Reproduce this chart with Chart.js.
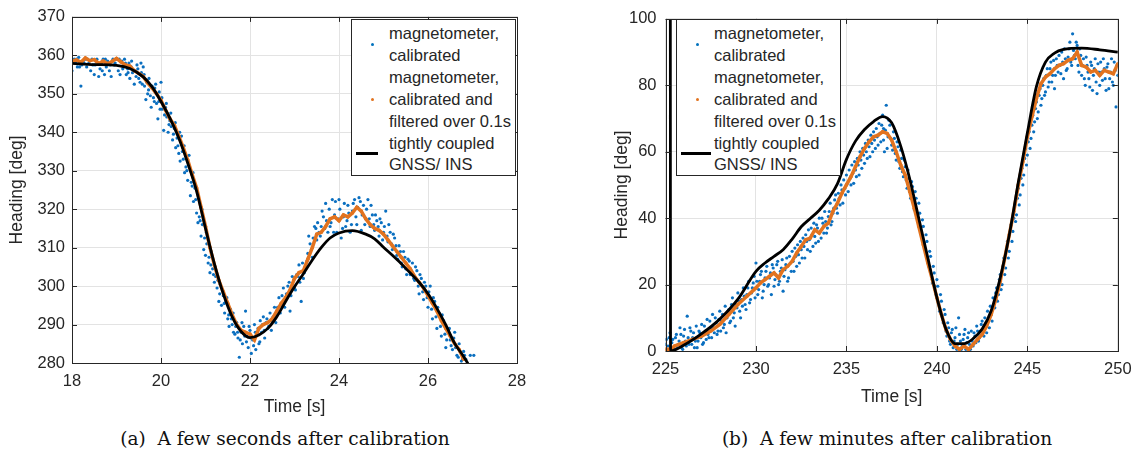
<!DOCTYPE html>
<html>
<head>
<meta charset="utf-8">
<script src="https://cdn.jsdelivr.net/npm/chart.js@4"></script>
<style>
  body { margin: 0; width: 1140px; height: 452px; background: #fff; position: relative; overflow: hidden; }
  canvas { position: absolute; top: 0; }
  .legend { position: absolute; top: 19px; height: 157px; border: 1px solid #262626; background: #fff; box-sizing: border-box; }
  .legend .txt { position: absolute; left: 37px; top: 3px; font: 16.5px "Liberation Sans", Arial, sans-serif; line-height: 21.9px; color: #262626; white-space: nowrap; }
  .dot { position: absolute; width: 3px; height: 3px; border-radius: 50%; }
  .sample { position: absolute; height: 3px; background: #000; }
  .caption { position: absolute; top: 428px; width: 560px; text-align: center; font: 18.5px "DejaVu Serif", "Liberation Serif", serif; color: #111; white-space: pre; }
</style>
</head>
<body>
<canvas id="left" width="560" height="425" style="left:0px"></canvas>
<canvas id="right" width="580" height="425" style="left:560px"></canvas>

<div class="legend" style="left:351px; width:165px">
  <div class="dot" style="left:19px; top:23px; background:#0072BD"></div>
  <div class="dot" style="left:19px; top:78px; background:#E2731F"></div>
  <div class="sample" style="left:4px; top:132px; width:22px"></div>
  <div class="txt">magnetometer,<br>calibrated<br>magnetometer,<br>calibrated and<br>filtered over 0.1s<br>tightly coupled<br>GNSS/ INS</div>
</div>
<div class="legend" style="left:676px; width:165px">
  <div class="dot" style="left:19px; top:23px; background:#0072BD"></div>
  <div class="dot" style="left:19px; top:78px; background:#E2731F"></div>
  <div class="sample" style="left:4px; top:132px; width:30px"></div>
  <div class="txt">magnetometer,<br>calibrated<br>magnetometer,<br>calibrated and<br>filtered over 0.1s<br>tightly coupled<br>GNSS/ INS</div>
</div>

<div class="caption" style="left:5px">(a)  A few seconds after calibration</div>
<div class="caption" style="left:607px">(b)  A few minutes after calibration</div>

<script>
// ---- subplot (a): 18-28 s ----
const magLeft = [
  [18.00,356],[18.05,359],[18.08,358],[18.12,357],[18.15,359.5],[18.20,352],[18.22,357.5],[18.25,358.5],
  [18.30,359],[18.33,357],[18.38,358],[18.42,356],[18.45,359],[18.50,355],[18.52,357.5],[18.56,359],
  [18.60,354.5],[18.63,356.5],[18.66,358],[18.70,359],[18.73,355],[18.77,357],[18.80,358.5],[18.84,356],
  [18.88,354.5],[18.92,359],[18.95,357.5],[19.00,359],[19.04,356],[19.08,355],[19.12,358.5],[19.15,357],
  [19.18,359],[19.22,355],[19.25,356.5],[19.28,358],[19.30,354],[19.33,357],[19.36,355.5],[19.40,352.5],
  [19.43,356],[19.46,357.5],[19.50,354],[19.53,353],[19.56,355.5],[19.60,357],[19.63,352],[19.66,348.5],
  [19.70,350],[19.73,354],[19.76,349.5],[19.80,352],[19.83,349],[19.86,351.5],[19.90,347.5],[19.93,343.5],
  [19.96,350.5],[20.00,353],[20.03,346],[20.06,340.5],[20.10,346.5],[20.13,344],[20.16,340],[20.20,343],
  [20.23,341.5],[20.26,338],[20.30,341],[20.33,336],[20.36,338.5],[20.40,334.5],[20.43,332.5],[20.46,339],
  [20.50,333],[20.53,329.5],[20.56,331],[20.60,327.5],[20.63,334],[20.66,323.5],[20.70,326],[20.73,322],
  [20.76,325.5],[20.80,319],[20.83,316.5],[20.86,318],[20.90,313],[20.93,316],[20.96,309.5],[21.00,308],
  [21.03,311],[21.06,306],[21.10,303.5],[21.13,309],[21.16,304.5],[21.20,301],[21.23,302.5],[21.26,299.5],
  [21.30,296],[21.33,300.5],[21.36,295],[21.40,297.5],[21.43,293],[21.46,296],[21.50,291.5],[21.53,289.5],
  [21.56,294],[21.60,290],[21.63,288],[21.66,287.5],[21.70,290.5],[21.73,286.5],[21.76,281.5],[21.80,288],
  [21.83,285],[21.86,289.5],[21.90,293.5],[21.93,287],[21.96,284],[22.00,288.5],[22.03,282.5],[22.06,286],
  [22.10,290],[22.13,283.5],[22.16,287.5],[22.20,285],[22.23,291],[22.26,288],[22.30,292],[22.33,286.5],
  [22.36,290.5],[22.40,289],[22.45,293],[22.50,291],[22.55,294.5],[22.60,292.5],[22.65,297],[22.70,295],
  [22.75,299.5],[22.80,296.5],[22.85,300],[22.90,293.5],[22.95,302.5],[23.00,299.5],[23.05,303],[23.10,305.5],
  [23.15,296],[23.20,302],[23.25,304.5],[23.30,308.5],[23.35,311],[23.40,307.5],[23.45,315.5],[23.50,312],
  [23.55,314],[23.60,315.5],[23.65,318],[23.70,321.5],[23.75,314],[23.80,315.5],[23.85,322.5],[23.90,318.5],
  [23.95,314],[24.00,322.5],[24.05,312.5],[24.10,318],[24.15,315.5],[24.20,321],[24.25,314],[24.30,319.5],
  [24.35,322.5],[24.40,316],[24.45,323],[24.50,314.5],[24.55,321],[24.60,317.5],[24.65,322.5],[24.70,315.5],
  [24.75,318.5],[24.80,314.5],[24.85,317],[24.90,313],[24.95,316.5],[25.00,314],[25.05,319.5],[25.10,311.5],
  [25.15,314],[25.20,309.5],[25.25,312.5],[25.30,308],[25.35,310.5],[25.40,306],[25.45,309],[25.50,304.5],
  [25.55,307],[25.60,303],[25.65,306],[25.70,301.5],[25.75,304],[25.80,298],[25.85,302],[25.90,296.5],
  [25.95,300],[26.00,294.5],[26.05,300],[26.10,291.5],[26.15,296],[26.20,289],[26.25,293],[26.30,287],
  [26.35,291],[26.40,284],[26.45,288.5],[26.50,286],[26.55,283.5],[26.60,288],[26.65,282],[26.70,285],
  [26.75,280.5],[26.80,283],[26.85,281],[26.95,282],[27.03,282]
];
const magLeft2 = [
  [18.03,358.5],[18.10,359],[18.17,357],[18.27,358],[18.35,359],[18.47,357.5],[18.54,358.5],[18.68,356],
  [18.75,359],[18.86,357.5],[18.97,358],[19.06,359],[19.14,356.5],[19.20,358],[19.26,355.5],[19.34,358.5],
  [19.39,356],[19.44,354.5],[19.48,356.5],[19.55,358],[19.58,352.5],[19.62,355],[19.68,353],[19.72,351],
  [19.78,346.5],[19.85,348],[19.88,352.5],[19.95,348],[19.98,346],[20.02,349],[20.08,344.5],[20.12,347.5],
  [20.18,342],[20.22,345],[20.28,339.5],[20.32,342.5],[20.38,336.5],[20.42,340],[20.48,335],[20.52,336.5],
  [20.58,330],[20.62,331.5],[20.68,327],[20.72,329.5],[20.78,322.5],[20.82,324],[20.88,317],[20.92,320],
  [20.98,312.5],[21.02,314],[21.08,307.5],[21.12,305.5],[21.18,303],[21.22,305],[21.28,301.5],[21.32,298],
  [21.38,299],[21.42,295.5],[21.48,297],[21.52,292.5],[21.58,291.5],[21.62,293],[21.68,289.5],[21.72,288],
  [21.78,286],[21.82,290.5],[21.88,287],[21.92,285.5],[21.98,289.5],[22.02,286.5],[22.08,284.5],[22.12,288],
  [22.18,289],[22.22,285.5],[22.28,290],[22.32,288.5],[22.38,291.5],[22.42,289.5],[22.48,288.5],[22.52,292],
  [22.58,290.5],[22.62,294.5],[22.68,293],[22.72,297.5],[22.78,294.5],[22.82,298],[22.88,301],[22.92,297.5],
  [22.98,301.5],[23.02,299],[23.08,302.5],[23.12,301],[23.18,306],[23.22,303.5],[23.28,306.5],[23.32,313],
  [23.38,309.5],[23.42,312.5],[23.48,315],[23.52,316.5],[23.58,313],[23.62,319.5],[23.68,315],[23.72,317],
  [23.78,320],[23.82,316.5],[23.88,314],[23.92,322],[23.98,317.5],[24.02,320],[24.08,315],[24.12,321.5],
  [24.18,317],[24.22,319],[24.28,316],[24.32,321.5],[24.38,318],[24.42,320.5],[24.48,322],[24.52,318.5],
  [24.58,316],[24.62,320],[24.68,317.5],[24.72,321],[24.78,316],[24.82,318.5],[24.88,315.5],[24.92,317.5],
  [24.98,312],[25.02,315.5],[25.08,313],[25.12,316],[25.18,311],[25.22,313.5],[25.28,310.5],[25.32,307],
  [25.38,309],[25.42,305],[25.48,307.5],[25.52,303],[25.58,306.5],[25.62,304],[25.68,302],[25.72,305],
  [25.78,300],[25.82,303],[25.88,298.5],[25.92,301],[25.98,297],[26.02,298.5],[26.08,294],[26.12,297],
  [26.18,292],[26.22,294.5],[26.28,289.5],[26.32,292.5],[26.38,287.5],[26.42,286],[26.48,289],[26.52,284.5],
  [26.58,286.5],[26.62,284],[26.68,281.5],[26.72,283],[26.78,281],[26.82,282]
];
const filtLeft = [
  [18.0,358.5],[18.1,358.8],[18.2,358.2],[18.3,359.3],[18.4,358.6],[18.5,358.9],[18.6,357.9],[18.7,358.5],
  [18.8,357.8],[18.9,358.4],[19.0,359.2],[19.1,358.3],[19.2,357.5],[19.3,357.2],[19.4,356.0],[19.5,355.3],
  [19.6,354.5],[19.7,352.8],[19.8,351.5],[19.9,350.0],[20.0,348.3],[20.1,345.8],[20.2,343.5],[20.3,341.8],
  [20.4,339.0],[20.5,336.0],[20.6,332.8],[20.7,329.0],[20.8,325.5],[20.9,320.5],[21.0,315.5],[21.1,310.0],
  [21.2,305.5],[21.3,301.5],[21.4,298.5],[21.5,295.5],[21.6,292.5],[21.7,290.0],[21.8,288.5],[21.9,288.0],
  [22.0,287.5],[22.1,286.0],[22.2,289.0],[22.3,290.0],[22.4,290.5],[22.5,291.5],[22.6,293.5],[22.7,295.5],
  [22.8,297.0],[22.9,299.0],[23.0,302.0],[23.1,303.5],[23.2,304.0],[23.3,307.0],[23.4,310.0],[23.5,313.5],
  [23.6,314.0],[23.7,315.5],[23.8,317.5],[23.9,318.0],[24.0,317.0],[24.1,318.5],[24.2,318.0],[24.3,319.0],
  [24.4,320.5],[24.5,319.5],[24.6,317.5],[24.7,316.0],[24.8,315.0],[24.9,314.5],[25.0,313.5],[25.1,312.0],
  [25.2,310.5],[25.3,309.0],[25.4,307.5],[25.5,306.0],[25.6,304.5],[25.7,302.5],[25.8,301.0],[25.9,299.5],
  [26.0,297.5],[26.1,295.5],[26.2,293.5],[26.3,291.0],[26.4,289.0],[26.5,287.0],[26.6,285.0],[26.7,283.5],
  [26.8,281.0]
];
const insLeft = [
  [18,357.9],[18.5,357.6],[19,357.4],[19.3,356.6],[19.6,354.4],[19.8,351.8],[20,348],[20.2,343.7],
  [20.4,338.5],[20.6,332],[20.8,324.7],[21,315],[21.2,305.8],[21.4,298],[21.6,292],[21.8,288.2],
  [22,286.6],[22.2,287.3],[22.4,289],[22.6,292],[22.8,296],[23,299.8],[23.2,303.2],[23.4,306.8],
  [23.6,310],[23.8,312.5],[24,313.8],[24.3,314.4],[24.6,313.5],[24.8,312.3],[25,310.1],[25.2,308],
  [25.4,305.8],[25.6,303.4],[25.8,301],[26,298],[26.2,294.2],[26.4,289.9],[26.6,285.1],[26.8,281.7],
  [26.9,279.8]
];

// ---- subplot (b): 225-250 s ----
const magRight = [
  [225.0,2],[225.1,0.5],[225.2,4],[225.3,1],[225.4,3.5],[225.5,0.5],[225.6,5],[225.7,2],[225.8,7],[225.9,1],
  [226.0,4.5],[226.1,3],[226.2,10.5],[226.3,2],[226.4,6],[226.5,4],[226.6,1],[226.7,7.5],[226.8,3],[226.9,5.5],
  [227.0,8],[227.1,2.5],[227.2,6],[227.3,9.5],[227.4,4],[227.5,7],[227.6,11],[227.7,5.5],[227.8,8.5],[227.9,6],
  [228.0,12],[228.1,9],[228.2,7],[228.3,13.5],[228.4,10],[228.5,12.5],[228.6,9],[228.7,16],[228.8,11.5],[228.9,14],
  [229.0,17.5],[229.1,12],[229.2,15.5],[229.3,19],[229.4,14],[229.5,17],[229.6,21],[229.7,15.5],[229.8,19],[229.9,22.5],
  [230.0,26.5],[230.1,17],[230.2,21],[230.3,24],[230.4,18],[230.5,22],[230.6,25.5],[230.7,20],[230.8,23.5],[230.9,26],
  [231.0,19.5],[231.1,23],[231.2,27],[231.3,21],[231.4,25],[231.5,18],[231.6,24.5],[231.7,28],[231.8,22],[231.9,26.5],
  [232.0,30],[232.1,24],[232.2,28.5],[232.3,32],[232.4,26.5],[232.5,30.5],[232.6,34],[232.7,28],[232.8,33],[232.9,36.5],
  [233.0,30],[233.1,35],[233.2,38.5],[233.3,32.5],[233.4,37],[233.5,40],[233.6,34],[233.7,38.5],[233.8,42],[233.9,35.5],
  [234.0,40.5],[234.1,44.5],[234.2,39],[234.3,43],[234.4,47],[234.5,41.5],[234.6,46],[234.7,50],[234.8,44.5],[234.9,49],
  [235.0,53],[235.1,48],[235.2,52],[235.3,56],[235.4,50.5],[235.5,54.5],[235.6,58],[235.7,53],[235.8,57.5],[235.9,61],
  [236.0,56.5],[236.1,60],[236.2,63.5],[236.3,58.5],[236.4,62.5],[236.5,66],[236.6,61],[236.7,64.5],[236.8,68.5],[236.9,63],
  [237.0,71],[237.05,67],[237.1,60],[237.2,74],[237.3,64.5],[237.4,68],[237.5,62],[237.6,66],[237.7,59.5],[237.8,63],
  [237.9,57],[238.0,60.5],[238.1,54],[238.2,57.5],[238.3,51.5],[238.4,54.5],[238.5,48],[238.6,51],[238.7,45],[238.8,48],
  [238.9,41],[239.0,44.5],[239.1,36.5],[239.2,39.5],[239.3,32.5],[239.4,35],[239.5,27.5],[239.6,30],[239.7,23],[239.8,25.5],
  [239.9,19.5],[240.0,21.5],[240.1,14.5],[240.2,17],[240.3,10.5],[240.4,12.5],[240.5,6],[240.6,8.5],[240.7,3],[240.8,5.5],
  [240.9,1],[241.0,4],[241.1,0.5],[241.2,10],[241.3,3],[241.4,1.5],[241.5,5],[241.6,0.5],[241.7,4],[241.8,2],
  [241.9,6],[242.0,1.5],[242.1,4.5],[242.2,7.5],[242.3,3],[242.4,6],[242.5,9],[242.6,4.5],[242.7,8],[242.8,12],
  [242.9,7],[243.0,11],[243.1,16],[243.2,13],[243.3,19],[243.4,17],[243.5,23],[243.6,20],[243.7,28],[243.8,25],
  [243.9,33],[244.0,30],[244.1,38],[244.2,36],[244.3,44],[244.4,41],[244.5,49],[244.6,47],[244.7,55],[244.8,53],
  [244.9,61],[245.0,59],[245.1,66],[245.2,64],[245.3,71],[245.4,69],[245.5,75],[245.6,72],[245.7,79],[245.8,76],
  [245.9,82],[246.0,78],[246.1,85],[246.2,81],[246.3,87],[246.4,83],[246.5,79],[246.6,88],[246.7,84],[246.8,86],
  [246.9,90],[247.0,82],[247.1,88],[247.2,85],[247.3,91],[247.4,87],[247.5,95.5],[247.6,89],[247.7,93],[247.8,86],
  [247.9,91],[248.0,83],[248.1,88],[248.2,80],[248.3,86],[248.4,82],[248.5,87],[248.6,78.5],[248.7,85],[248.8,81],
  [248.9,86.5],[249.0,80],[249.1,84],[249.2,88],[249.3,82],[249.4,85.5],[249.5,79],[249.6,84],[249.7,81],[249.8,87],
  [249.9,73.5],[250.0,83]
];
const magRight2 = [
  [225.05,3.5],[225.15,1.5],[225.25,5.5],[225.35,2.5],[225.45,0.5],[225.55,4],[225.65,1],[225.75,3],[225.85,5],[225.95,0.5],
  [226.05,6.5],[226.15,1.5],[226.25,4],[226.35,7],[226.45,2],[226.55,5.5],[226.65,3],[226.75,1],[226.85,6],[226.95,4],
  [227.05,2],[227.15,7.5],[227.25,3.5],[227.35,5],[227.45,9],[227.55,4],[227.65,7],[227.75,10],[227.85,5],[227.95,9.5],
  [228.05,6],[228.15,11],[228.25,8],[228.35,5.5],[228.45,12],[228.55,8.5],[228.65,14],[228.75,10],[228.85,7.5],[228.95,13],
  [229.05,15],[229.15,10],[229.25,13.5],[229.35,16.5],[229.45,12.5],[229.55,19],[229.65,14.5],[229.75,17.5],[229.85,20.5],[229.95,16],
  [230.05,21],[230.15,18.5],[230.25,23],[230.35,16],[230.45,20],[230.55,24],[230.65,19.5],[230.75,22],[230.85,17],[230.95,25],
  [231.05,21.5],[231.15,26],[231.25,20],[231.35,24],[231.45,27.5],[231.55,22.5],[231.65,26],[231.75,21],[231.85,28.5],[231.95,24],
  [232.05,27],[232.15,31],[232.25,25.5],[232.35,29],[232.45,33],[232.55,28],[232.65,31.5],[232.75,35],[232.85,30.5],[232.95,33.5],
  [233.05,37],[233.15,31.5],[233.25,34.5],[233.35,38],[233.45,33],[233.55,36],[233.65,40],[233.75,35.5],[233.85,39],[233.95,37],
  [234.05,42],[234.15,38],[234.25,41.5],[234.35,45.5],[234.45,43],[234.55,47.5],[234.65,44],[234.75,48.5],[234.85,51.5],[234.95,47],
  [235.05,50.5],[235.15,54.5],[235.25,50],[235.35,53.5],[235.45,57],[235.55,52.5],[235.65,56],[235.75,60],[235.85,55],[235.95,59],
  [236.05,62.5],[236.15,58],[236.25,61.5],[236.35,65],[236.45,60],[236.55,63.5],[236.65,67],[236.75,62],[236.85,65.5],[236.95,68],
  [237.05,63.5],[237.15,66.5],[237.25,61],[237.35,69.5],[237.45,64],[237.55,60.5],[237.65,64],[237.75,57.5],[237.85,61.5],[237.95,55],
  [238.05,58],[238.15,52.5],[238.25,55.5],[238.35,49],[238.45,52],[238.55,46],[238.65,49.5],[238.75,42.5],[238.85,46],[238.95,39],
  [239.05,41.5],[239.15,35],[239.25,37.5],[239.35,30.5],[239.45,33],[239.55,25.5],[239.65,28.5],[239.75,20.5],[239.85,23.5],[239.95,17],
  [240.05,19.5],[240.15,12],[240.25,15],[240.35,8.5],[240.45,11],[240.55,4.5],[240.65,7],[240.75,2],[240.85,6.5],[240.95,3],
  [241.05,7],[241.15,2],[241.25,5],[241.35,0.5],[241.45,3.5],[241.55,6.5],[241.65,2.5],[241.75,5.5],[241.85,0.5],[241.95,3],
  [242.05,5.5],[242.15,2.5],[242.25,6],[242.35,4],[242.45,8],[242.55,6.5],[242.65,10],[242.75,5.5],[242.85,9.5],[242.95,13.5],
  [243.05,9],[243.15,14],[243.25,17.5],[243.35,15],[243.45,21.5],[243.55,18.5],[243.65,25.5],[243.75,23],[243.85,30.5],[243.95,28],
  [244.05,36],[244.15,33],[244.25,40],[244.35,39],[244.45,46],[244.55,44],[244.65,52],[244.75,50],[244.85,58],[244.95,56],
  [245.05,63],[245.15,61],[245.25,68],[245.35,66],[245.45,73],[245.55,70],[245.65,77],[245.75,74],[245.85,80],[245.95,77],
  [246.05,83],[246.15,79.5],[246.25,85],[246.35,81],[246.45,87.5],[246.55,83],[246.65,86],[246.75,89],[246.85,83.5],[246.95,87],
  [247.05,91],[247.15,84.5],[247.25,88.5],[247.35,93],[247.45,86],[247.55,90.5],[247.65,88],[247.75,92],[247.85,84],[247.95,89],
  [248.05,86],[248.15,82],[248.25,88.5],[248.35,84],[248.45,79.5],[248.55,86],[248.65,83],[248.75,88],[248.85,77.5],[248.95,84],
  [249.05,87],[249.15,81.5],[249.25,85],[249.35,78.5],[249.45,86.5],[249.55,82],[249.65,88],[249.75,80],[249.85,84.5],[249.95,86]
];
const filtRight = [
  [225.0,0.5],[225.3,0.5],[225.5,1.5],[226,2.5],[226.5,3.5],[227,4.5],[227.5,6],[228,8],[228.5,11],[229,14],
  [229.5,16.5],[230,19],[230.25,20.5],[230.5,21.5],[230.75,22.5],[231,23.5],[231.25,22],[231.5,24.5],[231.75,25.5],
  [232,27],[232.25,29.5],[232.5,31.5],[232.75,33.5],[233,34],[233.25,36.5],[233.5,35.5],[233.75,37.5],[234,38.5],
  [234.25,42],[234.5,44.5],[234.75,47.5],[235,50],[235.25,52.5],[235.5,55.5],[235.75,58.5],[236,61],[236.25,63],
  [236.5,64.5],[236.75,65],[237,66],[237.25,65.5],[237.5,63.5],[237.75,60],[238,56],[238.25,53],[238.5,48],
  [238.75,43],[239,37.5],[239.25,32],[239.5,26.5],[239.75,21.5],[240,16],[240.25,11],[240.5,6.5],[240.75,3.5],
  [241,1.5],[241.25,0.5],[241.5,1.5],[241.75,0.5],[242,2],[242.25,3.5],[242.5,5],[242.75,7.5],[243,11],
  [243.25,15.5],[243.5,21],[243.75,28],[244,35],[244.25,42],[244.5,50],[244.75,57],[245,64.5],[245.25,70.5],
  [245.5,76],[245.75,80.5],[246,82.5],[246.25,83.5],[246.5,85],[246.75,86],[247,86.5],[247.25,87.5],[247.5,88],
  [247.75,90],[248,86],[248.25,85.5],[248.5,84],[248.75,84.5],[249,83],[249.25,84.5],[249.5,84],[249.75,83.5],
  [250,86.5]
];
const insRight = [
  [225.25,359],[225.28,0],[226,1.7],[227,5.2],[228,9.6],[229,15.6],[230,24],[230.5,26.5],[231,28.5],
  [231.5,30.5],[232,33.7],[232.5,37.4],[233,39.9],[233.5,42.4],[234,45.8],[234.5,50.3],[235,57.7],
  [235.5,63.2],[236,66.7],[236.5,69.1],[237,70.6],[237.5,68.7],[238,61.7],[238.5,51.8],[239,39.9],
  [239.5,28],[240,16.1],[240.5,6.6],[241,2.2],[241.5,2.2],[242,3.7],[242.5,6.6],[243,12.1],[243.5,22],
  [244,34.9],[244.5,50.8],[245,65.7],[245.5,79.6],[246,87],[246.5,89.7],[247,90.8],[248,91.2],[249,90.7],
  [250,90]
];

const xy = arr => arr.map(p => ({x: p[0], y: p[1]}));

// box around the axes with inward tick marks, like the original figure
const boxTicks = {
  id: 'boxTicks',
  afterDatasetsDraw(chart) {
    const {ctx, chartArea: a, scales: {x, y}} = chart;
    ctx.save();
    ctx.strokeStyle = '#262626';
    ctx.lineWidth = 1;
    ctx.beginPath();
    x.ticks.forEach(t => {
      const px = Math.round(x.getPixelForValue(t.value)) + 0.5;
      ctx.moveTo(px, a.bottom); ctx.lineTo(px, a.bottom - 5);
      ctx.moveTo(px, a.top); ctx.lineTo(px, a.top + 5);
    });
    y.ticks.forEach(t => {
      const py = Math.round(y.getPixelForValue(t.value)) + 0.5;
      ctx.moveTo(a.left, py); ctx.lineTo(a.left + 5, py);
      ctx.moveTo(a.right, py); ctx.lineTo(a.right - 5, py);
    });
    ctx.stroke();
    ctx.strokeRect(Math.round(a.left) + 0.5, Math.round(a.top) + 0.5, Math.round(a.width), Math.round(a.height));
    ctx.restore();
  }
};

function makeChart(id, o) {
  const tickFont = {family: 'Liberation Sans', size: 16.5};
  const titleFont = {family: 'Liberation Sans', size: 17.5};
  return new Chart(document.getElementById(id), {
    type: 'scatter',
    data: {
      datasets: [
        {label: 'tightly coupled GNSS/ INS', data: xy(o.ins), showLine: true, borderColor: '#000', borderWidth: 2.8,
         pointRadius: 0, cubicInterpolationMode: 'monotone', order: 1},
        {label: 'magnetometer, calibrated and filtered over 0.1s', data: xy(o.filt), showLine: true, borderColor: '#E2731F',
         borderWidth: 3.5, backgroundColor: '#E2731F', pointRadius: 1.8, pointBorderWidth: 0, order: 2},
        {label: 'magnetometer, calibrated', data: xy(o.mag), backgroundColor: '#0a6fc0', pointRadius: 1.6,
         pointBorderWidth: 0, order: 3}
      ]
    },
    options: {
      responsive: false,
      animation: false,
      layout: {padding: {top: 15, right: o.padRight, left: 0, bottom: 0}},
      plugins: {legend: {display: false}, tooltip: {enabled: false}},
      scales: {
        x: {
          type: 'linear', min: o.xMin, max: o.xMax,
          afterFit: s => { s.height = o.xHeight; },
          ticks: {stepSize: o.xStep, color: '#262626', font: tickFont, padding: o.xTickPad, maxRotation: 0},
          grid: {color: '#e3e3e3', drawTicks: false},
          border: {display: false},
          title: {display: true, text: 'Time [s]', color: '#262626', font: titleFont, padding: {top: 0, bottom: o.xTitlePad}}
        },
        y: {
          type: 'linear', min: o.yMin, max: o.yMax,
          afterFit: s => { s.width = o.yWidth; },
          ticks: {stepSize: o.yStep, color: '#262626', font: tickFont, padding: o.yTickPad},
          grid: {color: '#e3e3e3', drawTicks: false},
          border: {display: false},
          title: {display: true, text: 'Heading [deg]', color: '#262626', font: titleFont, padding: {top: o.yTitlePad, bottom: 0}}
        }
      }
    },
    plugins: [boxTicks]
  });
}

makeChart('left', {
  mag: magLeft.concat(magLeft2), filt: filtLeft, ins: insLeft,
  xMin: 18, xMax: 28, xStep: 2, yMin: 280, yMax: 370, yStep: 10,
  padRight: 43, xHeight: 62, yWidth: 72, xTickPad: 9, xTitlePad: 7.5, yTickPad: 7, yTitlePad: 6.5
});
makeChart('right', {
  mag: magRight.concat(magRight2), filt: filtRight, ins: insRight,
  xMin: 225, xMax: 250, xStep: 5, yMin: 0, yMax: 100, yStep: 20,
  padRight: 18, xHeight: 74, yWidth: 105.5, xTickPad: 8.4, xTitlePad: 17.8, yTickPad: 9, yTitlePad: 52
});
</script>
</body>
</html>
